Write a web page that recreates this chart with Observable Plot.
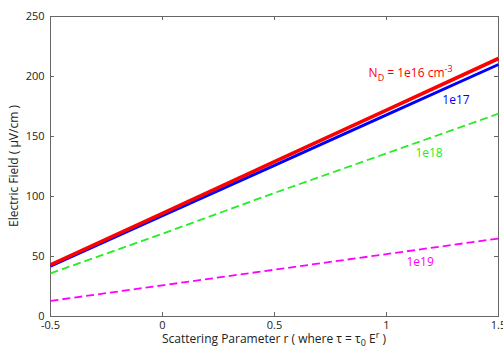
<!DOCTYPE html>
<html><head><meta charset="utf-8">
<script src="https://cdn.jsdelivr.net/npm/d3@7"></script>
<script src="https://cdn.jsdelivr.net/npm/@observablehq/plot@0.6"></script>
<style>body{margin:0;background:#fff;} svg{display:block;}</style>
</head><body><div id="chart"></div>
<script>
const r = [-0.5, 0, 0.5, 1, 1.5];
const e16 = [43, 86, 129, 172, 215];
const e17 = [42, 84, 126, 168, 210];
const e18 = [36, 69, 103, 136, 169];
const e19 = [13, 26, 39, 52, 65];
const xTicks = [-0.5, 0, 0.5, 1, 1.5];
const yTicks = [0, 50, 100, 150, 200, 250];
const seriesNames = ["1e16", "1e17", "1e18", "1e19"];
const labelText = ["N_D = 1e16 cm^-3", "1e17", "1e18", "1e19"];
const labelX = [0.92, 1.31, 1.19, 1.15];
const labelY = [203, 180, 136, 45];

const W = 503, H = 349, mL = 50, mR = 5, mT = 16, mB = 33;
const series = [e16, e17, e18, e19];
const colors = ["#ff0000", "#0000ff", "#22ee22", "#ff00ff"];
const widths = [3.6, 3, 1.8, 1.8];
const dashes = [null, null, "8,4", "8,4"];
const mk = s => r.map((x, i) => ({x, y: series[s][i]}));
const font = "Open Sans, sans-serif";
const iw = W - mL - mR, ih = H - mT - mB;

const marks = [
  Plot.frame({stroke: "#666", strokeWidth: 1}),
  Plot.tickX(xTicks, {x: d => d, stroke: "#666", insetTop: ih - 4}),
  Plot.tickX(xTicks, {x: d => d, stroke: "#666", insetBottom: ih - 4}),
  Plot.tickY(yTicks, {y: d => d, stroke: "#666", insetRight: iw - 4}),
  Plot.tickY(yTicks, {y: d => d, stroke: "#666", insetLeft: iw - 4}),
];
[3, 2, 1, 0].forEach(s => {
  marks.push(Plot.line(mk(s), {x: "x", y: "y", stroke: colors[s], strokeWidth: widths[s],
    strokeDasharray: dashes[s], strokeLinecap: "butt"}));
});
labelText.forEach((t, i) => {
  marks.push(Plot.text([{x: labelX[i], y: labelY[i], t}], {x: "x", y: "y", text: "t",
    fill: colors[i], fontSize: 12, textAnchor: i === 0 ? "start" : "middle", className: "lab" + i}));
});

const chart = Plot.plot({
  width: W, height: H,
  marginLeft: mL, marginRight: mR, marginTop: mT, marginBottom: mB,
  style: {fontFamily: font, fontSize: "11px", color: "#222", background: "#fff"},
  x: {domain: [-0.5, 1.5], ticks: xTicks, tickSize: 0, tickPadding: 5, label: null, tickFormat: d => String(d)},
  y: {domain: [0, 250], ticks: yTicks, tickSize: 0, tickPadding: 6, label: null, tickFormat: d => String(d)},
  marks
});
document.getElementById("chart").appendChild(chart);

const svg = d3.select(chart);
const red = svg.select(".lab0 text");
if (!red.empty()) {
  red.text(null);
  red.append("tspan").text("N");
  red.append("tspan").attr("font-size", 9).attr("dy", 4).text("D");
  red.append("tspan").attr("dy", -4).text(" = 1e16 cm");
  red.append("tspan").attr("font-size", 9).attr("dy", -5).text("-3");
}
const xl = svg.append("text").attr("x", mL + iw / 2).attr("y", H - 6)
  .attr("text-anchor", "middle").attr("font-size", 12).attr("fill", "#222").attr("font-family", font);
xl.append("tspan").text("Scattering Parameter r ( where τ = τ");
xl.append("tspan").attr("font-size", 9).attr("dy", 3).text("0");
xl.append("tspan").attr("dy", -3).text(" E");
xl.append("tspan").attr("font-size", 9).attr("dy", -5).text("r");
xl.append("tspan").attr("dy", 5).text(" )");
svg.append("text").attr("transform", `translate(18,${mT + ih / 2}) rotate(-90)`)
  .attr("text-anchor", "middle").attr("font-size", 12).attr("fill", "#222").attr("font-family", font)
  .text("Electric Field ( μV/cm )");
</script></body></html>
